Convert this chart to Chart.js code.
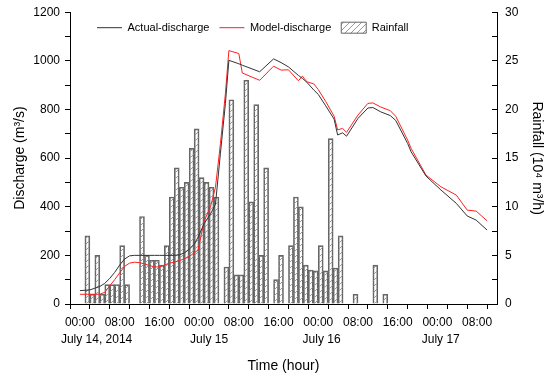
<!DOCTYPE html>
<html>
<head>
<meta charset="utf-8">
<script src="https://cdn.jsdelivr.net/npm/chart.js@4.4.0/dist/chart.umd.min.js"></script>
<style>
  html, body { margin: 0; padding: 0; background: #fff; }
  #wrap { width: 550px; height: 375px; }
</style>
</head>
<body>
<div id="wrap"><canvas id="chart"></canvas></div>
<script>
// ── data (time in hours from July 14, 2014 00:00) ──
const hours = [0, 2, 4, 5, 6, 7, 8, 9, 10, 11, 12, 13, 14, 15, 16, 17, 18, 19, 20, 21,
  22, 23, 23.8, 25, 26.3, 27.3, 28.3, 29.3, 30, 32, 32.7, 36.2, 39, 40.5, 42, 44, 44.8, 45.7, 47.1, 48,
  49.5, 51.2, 51.9, 52.9, 53.7, 56, 58, 59, 60.6, 62.5, 63.6, 66, 66.7, 69.7, 72.7, 75.8, 78, 79.8, 82];

const actualDischarge = [55, 58, 72, 85, 105, 130, 160, 185, 198, 200, 200, 200, 200, 200, 200, 200, 200, 200, 202, 210,
  225, 245, 275, 330, 370, 410, 620, 825, 1002, 988, 982, 955, 1008, 993, 975, 940, 928, 912, 880, 862,
  815, 760, 695, 704, 690, 763, 806, 808, 790, 775, 755, 660, 626, 526, 469, 414, 362, 345, 304];

const modelDischarge = [40, 40, 40, 48, 75, 100, 128, 155, 168, 172, 170, 165, 158, 153, 152, 160, 168, 172, 178, 185,
  195, 210, 222, 340, 400, 480, 660, 866, 1042, 1030, 950, 920, 978, 962, 963, 918, 937, 914, 905, 882,
  833, 772, 716, 722, 706, 777, 825, 827, 810, 795, 772, 674, 640, 530, 482, 448, 386, 382, 342];

// hourly rainfall (10^4 m3/h), hour 0 .. 61
const rainfall = [0, 7, 1, 5, 1, 2, 2, 2, 6, 2,
  0, 0, 9, 5, 4.5, 4.5, 4, 6, 11, 14,
  12, 12.5, 16, 18, 13, 12.5, 12, 11, 0, 3.8,
  21, 3, 3, 23, 10.5, 20.5, 5, 14, 0, 2.5,
  5, 0, 6, 11, 10, 4, 3.5, 3.4, 6, 3.4,
  17, 3.7, 7, 0, 0, 1, 0, 0, 0, 4,
  0, 1];

const timeTicks = [0, 4, 8, 12, 16, 20, 24, 28, 32, 36, 40, 44, 48, 52, 56, 60, 64, 68, 72, 76, 80, 84];
const dayNames = { 0: 'July 14, 2014', 24: 'July 15', 48: 'July 16', 72: 'July 17' };

const FONT = "'Liberation Sans', Arial, sans-serif";
// date captions sit a bit right of their tick in the original (leading spaces)
const dayNudge = { 0: 10, 24: 6, 48: 2, 72: 2 };

// diagonal hatch for the rainfall bars
function hatch() {
  const c = document.createElement('canvas');
  c.width = 6; c.height = 6;
  const g = c.getContext('2d');
  g.strokeStyle = '#9a9a9a';
  g.lineWidth = 1;
  g.beginPath();
  g.moveTo(0, 6); g.lineTo(6, 0);
  g.moveTo(-1, 1); g.lineTo(1, -1);
  g.moveTo(5, 7); g.lineTo(7, 5);
  g.stroke();
  return g.createPattern(c, 'repeat');
}

const hhmm = h => String(h % 24).padStart(2, '0') + ':00';

const timeLabel = v => {
  if (v % 8 !== 0 || v >= 84) return '';
  if (!dayNames[v]) return hhmm(v);
  return [hhmm(v), ' '.repeat(dayNudge[v]) + dayNames[v]];
};

// legend inside the plot, in one row, starting a bit right of the y axis
const legendInPlot = {
  id: 'legendInPlot',
  beforeLayout(chart) { if (chart.legend) chart.legend.isHorizontal = () => true; },
  afterLayout(chart) {
    if (!chart.legend) return;
    chart.legend.left = chart.chartArea.left + 17;
    chart.legend.top = chart.chartArea.top;
  }
};

const axisLine = { display: true, color: '#000', width: 1 };
const tickGrid = { drawOnChartArea: false, drawTicks: true, tickLength: 5, color: '#000' };

new Chart(document.getElementById('chart'), {
  type: 'bar',
  data: {
    datasets: [
      {
        type: 'line', label: 'Actual-discharge', yAxisID: 'y', order: 0,
        data: hours.map((h, i) => ({ x: h, y: actualDischarge[i] })),
        borderColor: '#333', borderWidth: 1, pointRadius: 0, pointStyle: 'line', tension: 0
      },
      {
        type: 'line', label: 'Model-discharge', yAxisID: 'y', order: 1,
        data: hours.map((h, i) => ({ x: h, y: modelDischarge[i] })),
        borderColor: '#ff1f1f', borderWidth: 1, pointRadius: 0, pointStyle: 'line', tension: 0
      },
      {
        type: 'bar', label: 'Rainfall', yAxisID: 'y1', order: 2,
        data: rainfall.map((r, i) => ({ x: i + 0.5, y: r })),
        backgroundColor: hatch(), borderColor: '#666', borderWidth: 1,
        borderSkipped: 'bottom', barPercentage: 1, categoryPercentage: 1, pointStyle: 'rect'
      }
    ]
  },
  options: {
    responsive: true, maintainAspectRatio: false, animation: false,
    layout: { padding: { top: 12, right: 0, left: 0, bottom: 0 } },
    plugins: {
      tooltip: { enabled: false },
      legend: {
        position: 'chartArea', align: 'start', fullSize: false,
        labels: {
          usePointStyle: true, pointStyleWidth: 25, boxHeight: 11, padding: 10,
          color: '#000', font: { family: FONT, size: 11 }
        }
      }
    },
    scales: {
      x: {
        type: 'linear', position: 'bottom', min: -2, max: 84, offset: false,
        afterBuildTicks: s => { s.ticks = timeTicks.map(v => ({ value: v })); },
        afterFit: s => { s.height = 71; },
        grid: tickGrid, border: axisLine,
        ticks: {
          autoSkip: false, maxRotation: 0, padding: 5, color: '#000',
          font: { family: FONT, size: 12, lineHeight: 1.45 },
          callback: timeLabel
        },
        title: { display: true, text: 'Time (hour)', color: '#000', font: { family: FONT, size: 14 }, padding: { top: 4, bottom: 0 } }
      },
      y: {
        position: 'left', min: 0, max: 1200,
        afterBuildTicks: s => { s.ticks = []; for (let v = 0; v <= 1200; v += 100) s.ticks.push({ value: v }); },
        afterFit: s => { s.width = 70; },
        grid: tickGrid, border: axisLine,
        ticks: { autoSkip: false, padding: 5, color: '#000', font: { family: FONT, size: 12 },
          callback: v => v % 200 === 0 ? v : '' },
        title: { display: true, text: 'Discharge (m³/s)', color: '#000', font: { family: FONT, size: 14 }, padding: { top: 12, bottom: 0 } }
      },
      y1: {
        position: 'right', min: 0, max: 30,
        afterBuildTicks: s => { s.ticks = []; for (let v = 0; v <= 30; v += 2.5) s.ticks.push({ value: v }); },
        // the large label padding below must not push the plot top down
        afterFit: s => { s.width = 53; s.paddingTop = 7; s.paddingBottom = 7; },
        // ticks on the right axis point into the plot
        grid: { drawOnChartArea: false, drawTicks: true, tickLength: -5, color: '#000' },
        border: axisLine,
        ticks: { autoSkip: false, padding: 13, color: '#000', font: { family: FONT, size: 12 },
          callback: v => v % 5 === 0 ? v : '' },
        title: { display: true, text: 'Rainfall (10⁴ m³/h)', color: '#000', font: { family: FONT, size: 14 }, padding: { top: 5, bottom: 0 } }
      }
    }
  },
  plugins: [legendInPlot]
});
</script>
</body>
</html>
